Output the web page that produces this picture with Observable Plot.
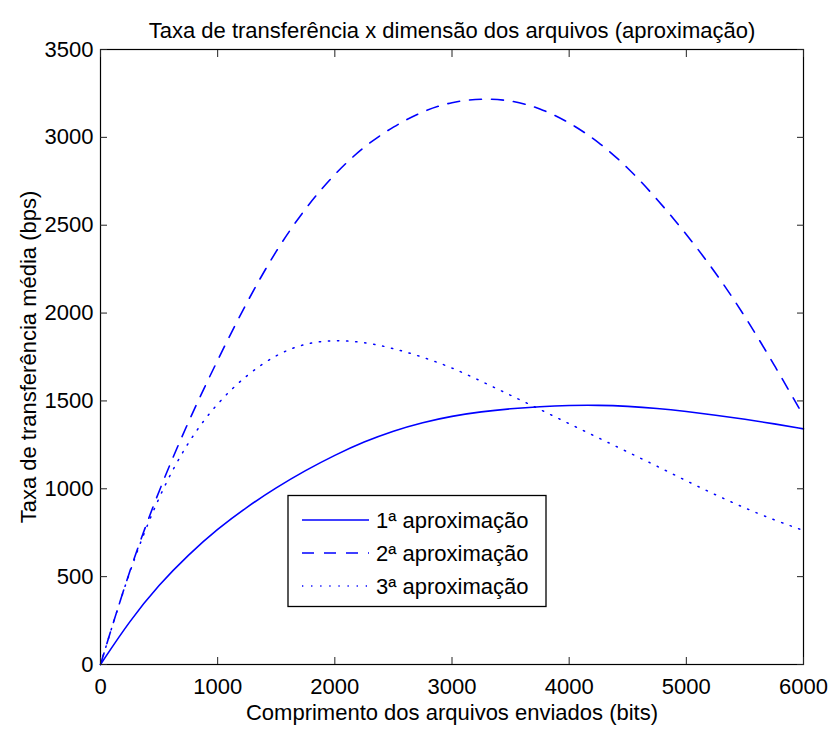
<!DOCTYPE html>
<html>
<head>
<meta charset="utf-8">
<script src="https://cdn.jsdelivr.net/npm/d3@7"></script>
<script src="https://cdn.jsdelivr.net/npm/@observablehq/plot@0.6"></script>
<style>
  html, body { margin: 0; padding: 0; background: #fff; }
  #chart svg { display: block; }
</style>
</head>
<body>
<div id="chart"></div>
<script>
// ---- data ----
const bits = [0, 250, 500, 750, 1000, 1250, 1500, 1750, 2000, 2250, 2500, 2750, 3000,
              3250, 3500, 3750, 4000, 4250, 4500, 4750, 5000, 5250, 5500, 5750, 6000];
const approx1 = [0, 250, 455, 625, 772, 897, 1007, 1105, 1192, 1268, 1330, 1378, 1414,
                 1439, 1456, 1468, 1475, 1476, 1470, 1458, 1440, 1419, 1396, 1370, 1341];
const approx2 = [0, 545, 995, 1385, 1735, 2065, 2360, 2600, 2795, 2950, 3062, 3150, 3203,
                 3222, 3212, 3168, 3086, 2976, 2830, 2650, 2450, 2232, 1984, 1706, 1415];
const approx3 = [0, 545, 965, 1275, 1492, 1650, 1765, 1830, 1847, 1835, 1800, 1750, 1690,
                 1612, 1532, 1452, 1370, 1290, 1209, 1129, 1045, 965, 890, 822, 763];
const seriesNames = ["1ª aproximação", "2ª aproximação", "3ª aproximação"];
const xTicks = [0, 1000, 2000, 3000, 4000, 5000, 6000];
const yTicks = [0, 500, 1000, 1500, 2000, 2500, 3000, 3500];
const titleText = "Taxa de transferência x dimensão dos arquivos (aproximação)";
const xLabel = "Comprimento dos arquivos enviados (bits)";
const yLabel = "Taxa de transferência média (bps)";

// ---- table built from the arrays ----
const seriesValues = [approx1, approx2, approx3];
const rows = [];
seriesValues.forEach((vals, s) => vals.forEach((v, i) => rows.push({x: bits[i], y: v, s: seriesNames[s]})));

const dashes = {
  [seriesNames[0]]: null,
  [seriesNames[1]]: "12,10",
  [seriesNames[2]]: "1.3,7.8"
};
const BLUE = "#0000ff";
const FONT = "Liberation Sans, Arial, Helvetica, sans-serif";
const FS = 22;

const lineMarks = seriesNames.map((name, k) =>
  Plot.line(rows.filter(d => d.s === name), {
    x: "x", y: "y", stroke: BLUE,
    strokeWidth: k === 2 ? 1.5 : 1.6,
    strokeDasharray: dashes[name],
    curve: "basis"
  })
);

const plot = Plot.plot({
  width: 832,
  height: 729,
  marginLeft: 100,
  marginRight: 29,
  marginTop: 49,
  marginBottom: 65,
  style: {fontFamily: FONT, fontSize: FS + "px", background: "white", overflow: "visible"},
  x: {domain: [0, 6000]},
  y: {domain: [0, 3500]},
  marks: [
    ...lineMarks,
    Plot.frame({stroke: "black", strokeWidth: 1.2}),
    // inward ticks on all four sides
    Plot.axisX(xTicks, {anchor: "bottom", tickSize: 7, dy: -7, tickFormat: () => "", label: null, stroke: "#222"}),
    Plot.axisX(xTicks, {anchor: "top", tickSize: 7, dy: 7, tickFormat: () => "", label: null, stroke: "#222"}),
    Plot.axisY(yTicks, {anchor: "left", tickSize: 7, dx: 7, tickFormat: () => "", label: null, stroke: "#222"}),
    Plot.axisY(yTicks, {anchor: "right", tickSize: 7, dx: -7, tickFormat: () => "", label: null, stroke: "#222"}),
    // tick labels
    Plot.axisX(xTicks, {anchor: "bottom", tickSize: 0, tickPadding: 14, label: null, fontSize: FS, fill: "black", tickFormat: d => String(d)}),
    Plot.axisY(yTicks, {anchor: "left", tickSize: 0, tickPadding: 7, label: null, fontSize: FS, fill: "black", tickFormat: d => String(d)}),
    // title and axis labels
    Plot.text([titleText], {frameAnchor: "top", dy: -27, fontSize: 22, fill: "black", textAnchor: "middle", text: d => d}),
    Plot.text([xLabel], {frameAnchor: "bottom", dy: 55, fontSize: FS, fill: "black", textAnchor: "middle", text: d => d}),
    Plot.text([yLabel], {frameAnchor: "left", dx: -72, rotate: -90, fontSize: FS, fill: "black", textAnchor: "middle", text: d => d})
  ]
});

document.getElementById("chart").appendChild(plot);

// ---- legend (layout only) ----
const svg = d3.select(plot);
const lg = svg.append("g").attr("font-family", FONT).attr("font-size", FS).attr("text-anchor", "start");
lg.append("rect").attr("x", 288).attr("y", 495.5).attr("width", 258).attr("height", 111)
  .attr("fill", "white").attr("stroke", "black").attr("stroke-width", 1.3);
const rowY = [520, 553, 586];
seriesNames.forEach((name, i) => {
  lg.append("line").attr("x1", 302).attr("x2", 369).attr("y1", rowY[i]).attr("y2", rowY[i])
    .attr("stroke", BLUE).attr("stroke-width", i === 2 ? 1.5 : 1.6)
    .attr("stroke-dasharray", dashes[name]);
  lg.append("text").attr("x", 376).attr("y", rowY[i]).attr("dy", "0.35em")
    .attr("text-anchor", "start").attr("fill", "black").text(name);
});
</script>
</body>
</html>
